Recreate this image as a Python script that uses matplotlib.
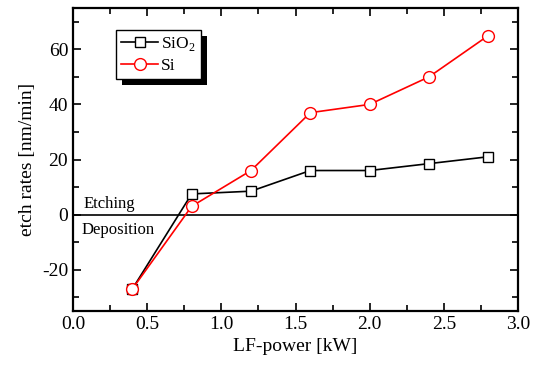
import matplotlib
matplotlib.use('Agg')
import matplotlib.pyplot as plt
from matplotlib.ticker import MultipleLocator
from matplotlib.patches import Rectangle

plt.rcParams['font.family'] = ['Liberation Serif', 'DejaVu Serif']
plt.rcParams['mathtext.fontset'] = 'custom'
plt.rcParams['mathtext.rm'] = 'Liberation Serif'

power = [0.4, 0.8, 1.2, 1.6, 2.0, 2.4, 2.8]
sio2 = [-27, 7.5, 8.5, 16, 16, 18.5, 21]
si = [-27, 3, 16, 37, 40, 50, 65]

fig = plt.figure(figsize=(5.38, 3.69), dpi=100)
ax = fig.add_axes([73/538, 1-311/369, 445/538, 303/369])

ax.axhline(0, color='black', lw=1.2, zorder=1)
ax.plot(power, sio2, color='black', lw=1.2, marker='s', ms=7, mfc='white',
        mec='black', mew=1.0, label=r'SiO$_2$', zorder=3)
ax.plot(power, si, color='red', lw=1.2, marker='o', ms=8.5, mfc='white',
        mec='red', mew=1.0, label='Si', zorder=3)

ax.text(0.07, 2.5, 'Etching', fontsize=12)
ax.text(0.06, -7, 'Deposition', fontsize=12)

ax.set_xlim(0, 3.0)
ax.set_ylim(-35, 75)
ax.xaxis.set_major_locator(MultipleLocator(0.5))
ax.xaxis.set_minor_locator(MultipleLocator(0.25))
ax.yaxis.set_major_locator(MultipleLocator(20))
ax.yaxis.set_minor_locator(MultipleLocator(10))
ax.tick_params(which='both', direction='in', top=True, right=True, labelsize=14, width=1.2)
ax.tick_params(which='major', length=6)
ax.tick_params(which='minor', length=4)
ax.set_yticks([-20, 0, 20, 40, 60])
ax.set_yticklabels(['-20', '0', '20', '40', '60'])
for s in ax.spines.values():
    s.set_linewidth(1.6)

ax.set_xlabel('LF-power [kW]', fontsize=14)
ax.set_ylabel('etch rates [nm/min]', fontsize=14)

leg = ax.legend(loc='upper left', bbox_to_anchor=(0.097, 0.927), borderaxespad=0,
                fontsize=12.5, frameon=True, fancybox=False, edgecolor='black',
                framealpha=1, borderpad=0.3, handlelength=2.1,
                handletextpad=0.2, labelspacing=0.25)
leg.get_frame().set_linewidth(1.0)

# offset black shadow behind the legend box
fig.canvas.draw()
bb = leg.get_window_extent()
ax.add_patch(Rectangle((bb.x0 + 6, bb.y0 - 6), bb.width, bb.height,
                       transform=None, facecolor='black', edgecolor='none',
                       clip_on=False, zorder=4.9))

fig.savefig('out.png', dpi=100)
